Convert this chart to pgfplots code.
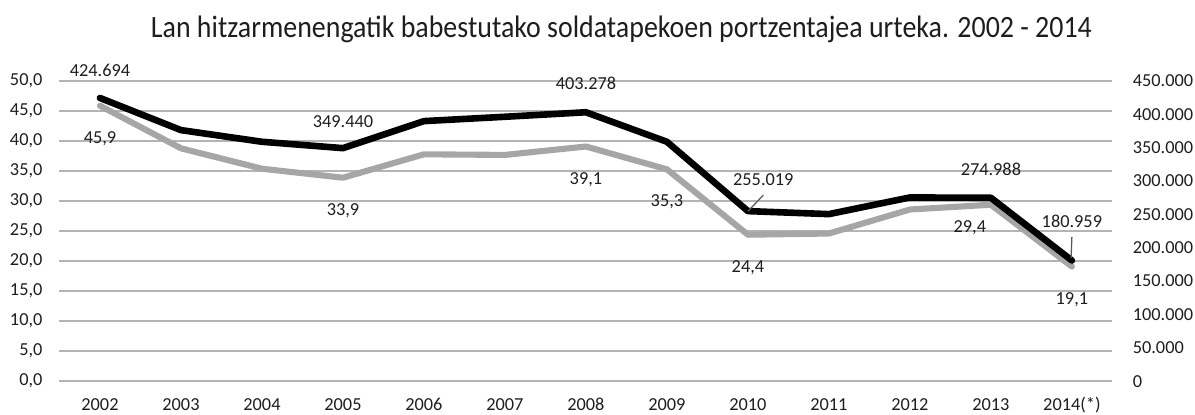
\documentclass[border=0pt]{standalone}
\usepackage{fontspec}
\setmainfont{Carlito}
\newfontfamily\titlefont[FakeStretch=0.9]{Carlito}
\usepackage{pgfplots}
\pgfplotsset{compat=1.18}
\definecolor{grayline}{HTML}{A6A6A6}
\definecolor{gridc}{HTML}{B4B4B4}
\definecolor{txt}{HTML}{1E1E1E}
\definecolor{leader}{HTML}{595959}
\begin{document}
\begin{tikzpicture}[font=\fontsize{7.2}{8}\selectfont, lbl/.style={anchor=center, inner sep=0pt, text height=4.6pt, text depth=0pt, text=txt}]
\begin{axis}[
  at={(0,0)}, anchor=south west,
  scale only axis, width=414.1pt, height=118pt,
  xmin=-0.5, xmax=12.5, ymin=0, ymax=50,
  xtick={0,...,12},
  xticklabels={2002,2003,2004,2005,2006,2007,2008,2009,2010,2011,2012,2013,2014(*)},
  ytick={0,5,...,50},
  axis line style={draw=none},
  major tick length=0pt,
  ymajorgrids, grid style={gridc, line width=0.8pt},
  tick label style={text=txt},
  yticklabel style={xshift=-3.2pt, /pgf/number format/.cd, fixed, fixed zerofill, precision=1, use comma, assume math mode=true},
  xticklabel style={anchor=north, text height=4.6pt, text depth=0pt, yshift=-3.6pt},
  clip=false,
]
\addplot[grayline, line width=2.4pt, line join=round, line cap=round] coordinates {
(0,45.9) (1,38.8) (2,35.4) (3,33.9) (4,37.8) (5,37.7) (6,39.1) (7,35.3) (8,24.4) (9,24.6) (10,28.6) (11,29.4) (12,19.1)};
\end{axis}
\begin{axis}[
  at={(0,0)}, anchor=south west,
  scale only axis, width=414.1pt, height=118pt,
  xmin=-0.5, xmax=12.5, ymin=0, ymax=450000,
  axis y line*=right, hide x axis,
  ytick={0,50000,...,450000},
  scaled y ticks=false,
  axis line style={draw=none},
  major tick length=0pt,
  tick label style={text=txt},
  yticklabel style={xshift=4.5pt, /pgf/number format/.cd, fixed, 1000 sep={.}, assume math mode=true},
  clip=false,
]
\addplot[black, line width=2.6pt, line join=round, line cap=round] coordinates {
(0,424694) (1,376500) (2,359000) (3,349440) (4,390000) (5,396500) (6,403278) (7,359000) (8,255019) (9,250500) (10,275500) (11,274988) (12,180959)};
\draw[leader, line width=0.5pt] (axis cs:8.19,279000) -- (axis cs:8.0,254700);
\draw[leader, line width=0.5pt] (axis cs:12.0,216000) -- (axis cs:11.99,184500);
\node[lbl] at (axis cs:0,466200) {424.694};
\node[lbl] at (axis cs:0,364500) {45,9};
\node[lbl] at (axis cs:3.0,388800) {349.440};
\node[lbl] at (axis cs:3.0,256500) {33,9};
\node[lbl] at (axis cs:6.0,445500) {403.278};
\node[lbl] at (axis cs:6.0,304200) {39,1};
\node[lbl] at (axis cs:7.0,270000) {35,3};
\node[lbl] at (axis cs:8.19,301500) {255.019};
\node[lbl] at (axis cs:8.0,171000) {24,4};
\node[lbl] at (axis cs:11.0,317700) {274.988};
\node[lbl] at (axis cs:10.74,232200) {29,4};
\node[lbl] at (axis cs:12.0,238500) {180.959};
\node[lbl] at (axis cs:12.0,124200) {19,1};
\end{axis}
\node[anchor=base, inner sep=0pt, text=txt] at (221pt,135.3pt) {\titlefont\fontsize{12.2}{14}\selectfont Lan hitzarmenengatik babestutako soldatapekoen portzentajea urteka. 2002 - 2014};
\pgfresetboundingbox
\path[use as bounding box] (-23.4pt,-13pt) rectangle (446.6pt,149.9pt);
\end{tikzpicture}
\end{document}
